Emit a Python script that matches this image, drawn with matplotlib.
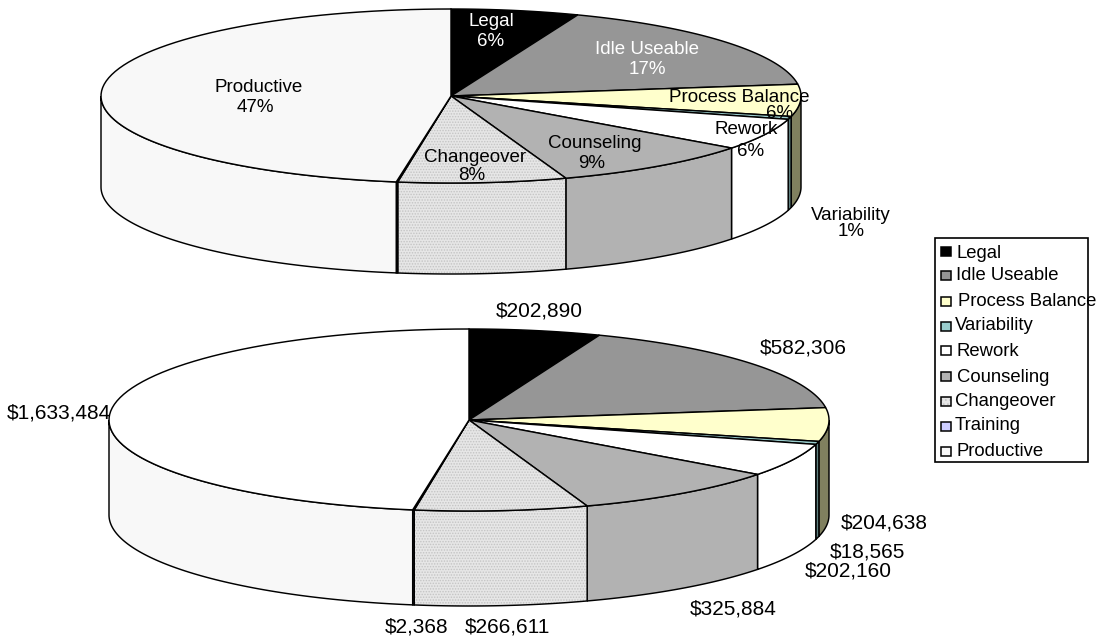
import numpy as np
import matplotlib
matplotlib.use('Agg')
import matplotlib.pyplot as plt
from matplotlib.patches import Polygon, Rectangle

plt.rcParams['font.family'] = ['Liberation Sans', 'DejaVu Sans']
plt.rcParams['hatch.linewidth'] = 0.7

categories = ['Legal', 'Idle Useable', 'Process Balance', 'Variability', 'Rework',
              'Counseling', 'Changeover', 'Training', 'Productive']
dollars = [202890, 582306, 204638, 18565, 202160, 325884, 266611, 2368, 1633484]
percents = ['6%', '17%', '6%', '1%', '6%', '9%', '8%', '', '47%']

top_colors = ['#000000', '#969696', '#FFFFCC', '#99CCCC', '#FFFFFF',
              '#B2B2B2', '#E6E6E6', '#CCCCFF', '#F8F8F8']
wall_colors = ['#000000', '#6E6E6E', '#80805F', '#5F8080', '#FFFFFF',
               '#B2B2B2', '#E6E6E6', '#9999CC', '#F8F8F8']

# pixel positions of the labels
name_pos = [(491, 21), (647, 49), (739, 97), (851, 216), (746, 130),
            (595, 144), (475, 157), None, (259, 87)]
pct_pos = [(491, 41), (647, 69), (780, 113), (851, 232), (751, 151),
           (592, 163), (472, 176), None, (255, 107)]
dollar_pos = [(539, 311), (803, 348), (884, 523), (867, 552), (848, 571),
              (733, 609), (507, 627), (417, 627), (59, 413)]
legend_marker_y = [251, 275.5, 301.5, 326.5, 350.5, 376, 401.5, 426.5, 451]
legend_text_x = [957, 956, 958, 955, 956, 957, 955, 955, 957]
legend_text_y = [253, 276, 301, 326, 351, 378, 401, 426, 451]

FS = 13.5
FS_DOLLAR = 15
LW = 1.05


def point(cx, cy, a, b, deg):
    t = np.radians(deg)
    return cx + a * np.sin(t), cy - b * np.cos(t)


def fill(ax, pts, color, dotted):
    if dotted:
        ax.add_patch(Polygon(pts, closed=True, facecolor=color, edgecolor='#C4C4C4',
                             hatch='......', lw=0))
        ax.add_patch(Polygon(pts, closed=True, fill=False, edgecolor='black', lw=LW))
    else:
        ax.add_patch(Polygon(pts, closed=True, facecolor=color, edgecolor='black', lw=LW))


def draw_pie(ax, cx, cy, a, b, depth, top, walls):
    edges = np.concatenate([[0], np.cumsum(dollars)]) / sum(dollars) * 360
    # front walls first
    for i in range(len(dollars)):
        lo, hi = max(edges[i], 90), min(edges[i + 1], 270)
        if hi <= lo:
            continue
        deg = np.linspace(lo, hi, 80)
        x, y = point(cx, cy, a, b, deg)
        pts = np.column_stack([np.r_[x, x[::-1]], np.r_[y, y[::-1] + depth]])
        fill(ax, pts, walls[i], categories[i] == 'Changeover')
    for i in range(len(dollars)):
        deg = np.linspace(edges[i], edges[i + 1], 80)
        x, y = point(cx, cy, a, b, deg)
        pts = np.column_stack([np.r_[cx, x], np.r_[cy, y]])
        fill(ax, pts, top[i], categories[i] == 'Changeover')


fig = plt.figure(figsize=(10.97, 6.36), dpi=100)
ax = fig.add_axes([0, 0, 1, 1])
ax.set_xlim(0, 1097)
ax.set_ylim(636, 0)
ax.axis('off')

draw_pie(ax, 451, 96, 350, 87, 91, top_colors, wall_colors)
bottom_colors = list(top_colors)
bottom_colors[-1] = '#FFFFFF'
draw_pie(ax, 469, 420, 360, 91, 95, bottom_colors, wall_colors)

# top pie labels
for i, name in enumerate(categories):
    if name_pos[i] is None:
        continue
    color = 'white' if name in ('Legal', 'Idle Useable') else 'black'
    ax.text(name_pos[i][0], name_pos[i][1], name, fontsize=FS, color=color, ha='center', va='center')
    ax.text(pct_pos[i][0], pct_pos[i][1], percents[i], fontsize=FS, color=color, ha='center', va='center')

# bottom pie labels
for i, val in enumerate(dollars):
    ax.text(dollar_pos[i][0], dollar_pos[i][1], f'${val:,}', fontsize=FS_DOLLAR, ha='center', va='center')

# legend, drawn by hand as the entries are not evenly placed
ax.add_patch(Rectangle((935, 238), 153, 224, facecolor='white', edgecolor='black', lw=1.2))
for i, name in enumerate(categories):
    dotted = name == 'Changeover'
    ax.add_patch(Rectangle((941, legend_marker_y[i] - 4.5), 10, 9, facecolor=top_colors[i],
                           edgecolor='#C4C4C4' if dotted else 'black', lw=0 if dotted else 1.1,
                           hatch='....' if dotted else None))
    if dotted:
        ax.add_patch(Rectangle((941, legend_marker_y[i] - 4.5), 10, 9, fill=False,
                               edgecolor='black', lw=1.1))
    ax.text(legend_text_x[i], legend_text_y[i], name, fontsize=FS - 0.2, ha='left', va='center',
            clip_on=False)

fig.savefig('out.png', dpi=100, facecolor='white')
